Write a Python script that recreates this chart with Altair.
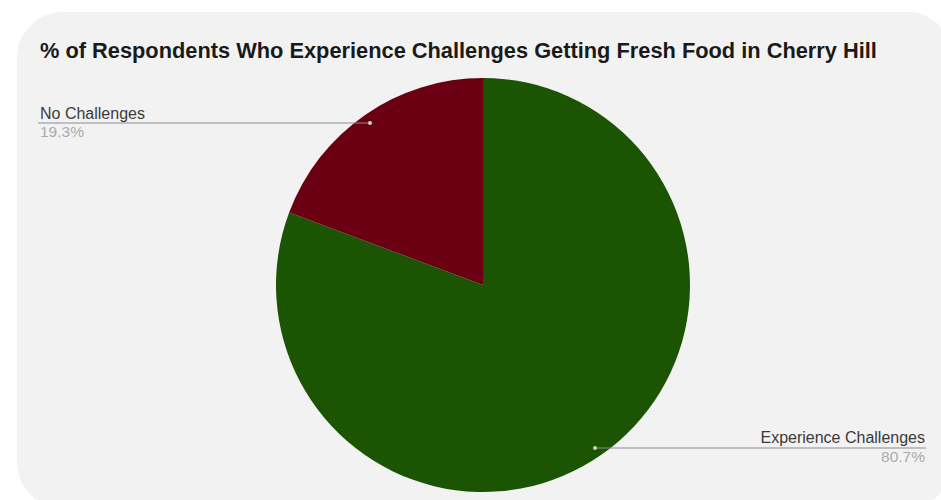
import altair as alt
import pandas as pd

categories = ["Experience Challenges", "No Challenges"]
values = [80.7, 19.3]
colors = ["#1b5402", "#6a0012"]
order = [1, 2]

df = pd.DataFrame({"category": categories, "value": values, "order": order})
df["pct"] = df["value"].map(lambda v: f"{v:.1f}%")

W, H = 941, 500
CX, CY, R = 483, 285, 207

card = alt.Chart(alt.Data(values=[{"a": 1}])).mark_rect(
    fill="#f2f2f2", cornerRadius=46
).encode(x=alt.value(17), x2=alt.value(953), y=alt.value(12), y2=alt.value(508))

pie = alt.Chart(df).mark_arc(outerRadius=R, stroke=None).encode(
    theta=alt.Theta("value:Q", stack=True),
    order=alt.Order("order:Q"),
    color=alt.Color("category:N", scale=alt.Scale(domain=categories, range=colors), legend=None),
    x=alt.value(CX),
    y=alt.value(CY),
)

title = alt.Chart(alt.Data(values=[{"t": "% of Respondents Who Experience Challenges Getting Fresh Food in Cherry Hill"}])).mark_text(
    align="left", baseline="alphabetic", font="Liberation Sans", fontWeight="bold", fontSize=21.8, color="#1a1a1a"
).encode(text="t:N", x=alt.value(40), y=alt.value(58))

def label_layers(cat, x_text, align, y_line, x0, x1, dotx, y_name, y_pct):
    base = alt.Chart(df).transform_filter(alt.datum.category == cat)
    line = base.mark_rule(color="#8c8c8c", strokeWidth=1.2).encode(
        x=alt.value(x0), x2=alt.value(x1), y=alt.value(y_line)
    )
    dot = base.mark_point(filled=True, size=16, color="#cfcfcf", opacity=1).encode(
        x=alt.value(dotx), y=alt.value(y_line)
    )
    name = base.mark_text(align=align, baseline="alphabetic", font="Liberation Sans", fontSize=16, color="#3a3a3a").encode(
        text="category:N", x=alt.value(x_text), y=alt.value(y_name)
    )
    pct = base.mark_text(align=align, baseline="alphabetic", font="Liberation Sans", fontSize=15.5, color="#ababab").encode(
        text="pct:N", x=alt.value(x_text), y=alt.value(y_pct)
    )
    return [line, dot, name, pct]

layers = [card, pie, title]
layers += label_layers("No Challenges", 40, "left", 123, 38, 370, 370, 119, 137)
layers += label_layers("Experience Challenges", 925, "right", 448, 595, 926, 595, 443, 462)

chart = alt.layer(*layers).properties(
    width=W, height=H, padding=0, autosize=alt.AutoSizeParams(type="none"), background="white"
).configure_view(stroke=None)

chart.save("out.html", embed_options={"renderer": "svg", "actions": False})
